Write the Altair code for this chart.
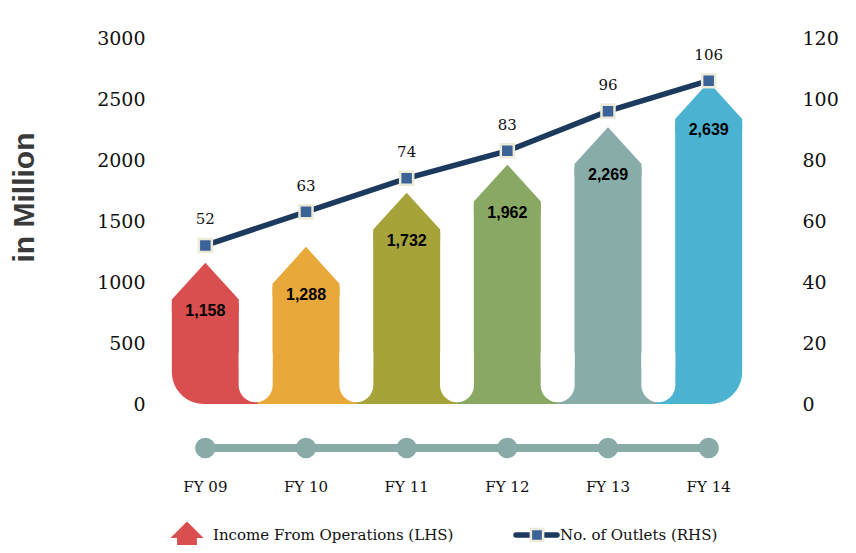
import altair as alt
import pandas as pd

# ---------------- data ----------------
years = ["FY 09", "FY 10", "FY 11", "FY 12", "FY 13", "FY 14"]
income = [1158, 1288, 1732, 1962, 2269, 2639]          # LHS, in million
outlets = [52, 63, 74, 83, 96, 106]                     # RHS, count
bar_colors = ["#D94E4F", "#E9A83A", "#A6A33A", "#88A863", "#88ACA8", "#4BB3D1"]
left_ticks = [0, 500, 1000, 1500, 2000, 2500, 3000]
right_ticks = [0, 20, 40, 60, 80, 100, 120]
legend_labels = ["Income From Operations (LHS)", "No. of Outlets (RHS)"]

df = pd.DataFrame({"fy": years, "income": income, "outlets": outlets})
legend_df = pd.DataFrame({"label": legend_labels})

# ---------------- styling ----------------
W, H = 604, 366
STEP = W / len(years)
BAR_W = 67
NAVY = "#1B3A5E"
MARK_FILL = "#3C6397"
MARK_STROKE = "#ECEAD9"
TIMELINE = "#88ABA8"
SERIF = "DejaVu Serif"
SANS = "Liberation Sans"

HEAD_PATH = "M0,0 L1,1.1 L1,1.45 L-1,1.45 L-1,1.1 Z"
LEG_ARROW_PATH = "M0,-1 L1,0 L0.6,0 L0.6,1.4 L-0.6,1.4 L-0.6,0 L-1,0 Z"

x_scale = alt.Scale(type="band", domain=years, paddingInner=0, paddingOuter=0)
x_ax = alt.Axis(labelFont=SERIF, labelFontSize=15, labelColor="#111",
                labelPadding=75, domain=False, ticks=False, grid=False, labelAngle=0)
x_enc = alt.X("fy:N", sort=years, scale=x_scale, title=None, axis=x_ax)

yl = alt.Scale(domain=[0, 3000], nice=False, zero=True)
yr = alt.Scale(domain=[0, 120], nice=False, zero=True)
color = alt.Color("fy:N", scale=alt.Scale(domain=years, range=bar_colors), legend=None)

left_axis = alt.Axis(values=left_ticks, format="d", grid=False, domain=False, ticks=False,
                     labelFont=SERIF, labelFontSize=19, labelColor="#111", labelPadding=10,
                     title="in Million", titleFont=SANS, titleFontSize=30, titleFontWeight="bold",
                     titleColor="#3A3A3A", titleX=-131, titleY=159, titleAngle=270,
                     titleAlign="center", titleBaseline="middle")
right_axis = alt.Axis(values=right_ticks, format="d", orient="right", grid=False, domain=False,
                      ticks=False, labelFont=SERIF, labelFontSize=19, labelColor="#111",
                      labelPadding=43, title=None)

base = alt.Chart(df)

# arrow bodies
body = base.transform_calculate(body_top="datum.income - 330").mark_bar(
    width=BAR_W, cornerRadiusBottomLeft=32, cornerRadiusBottomRight=32
).encode(
    x=x_enc,
    y=alt.Y("body_top:Q", scale=yl, axis=left_axis),
    y2=alt.datum(0),
    color=color,
)

# arrow heads
head = base.mark_point(shape=HEAD_PATH, size=BAR_W ** 2, filled=True, opacity=1, strokeWidth=0).encode(
    x=x_enc, y=alt.Y("income:Q", scale=yl, axis=left_axis), color=color
)

# feet joining the bars at the bottom
foot_mid = base.transform_filter(alt.FieldOneOfPredicate(field="fy", oneOf=years[1:-1])).mark_bar(
    width=STEP + 1
).encode(x=x_enc, y=alt.datum(290), y2=alt.datum(0), color=color)
foot_first = base.transform_filter(alt.FieldEqualPredicate(field="fy", equal=years[0])).mark_bar(
    width=STEP / 2 + 2, xOffset=STEP / 4 + 1
).encode(x=x_enc, y=alt.datum(290), y2=alt.datum(0), color=color)
foot_last = base.transform_filter(alt.FieldEqualPredicate(field="fy", equal=years[-1])).mark_bar(
    width=STEP / 2 + 2, xOffset=-(STEP / 4 + 1)
).encode(x=x_enc, y=alt.datum(290), y2=alt.datum(0), color=color)

# white pill separators
pill = base.transform_filter(alt.FieldOneOfPredicate(field="fy", oneOf=years[:-1])).mark_bar(
    width=34, xOffset=STEP / 2, color="white",
    cornerRadiusBottomLeft=17, cornerRadiusBottomRight=17
).encode(x=x_enc, y=alt.datum(420), y2=alt.datum(15))

bar_labels = base.mark_text(dy=48, font=SANS, fontWeight="bold", fontSize=16, color="#000").encode(
    x=x_enc, y=alt.Y("income:Q", scale=yl, axis=left_axis), text=alt.Text("income:Q", format=",")
)

# timeline under the chart
timeline = base.mark_line(color=TIMELINE, strokeWidth=8).encode(x=x_enc, y=alt.value(410))
timeline_dots = base.mark_circle(size=420, opacity=1, color=TIMELINE).encode(x=x_enc, y=alt.value(410))

# legend
LEG_Y = 497
leg1 = alt.Chart(legend_df).transform_filter(alt.FieldEqualPredicate(field="label", equal=legend_labels[0]))
leg2 = alt.Chart(legend_df).transform_filter(alt.FieldEqualPredicate(field="label", equal=legend_labels[1]))
leg_arrow = leg1.mark_point(shape=LEG_ARROW_PATH, size=33 ** 2, filled=True, opacity=1,
                            color=bar_colors[0], strokeWidth=0).encode(x=alt.value(32), y=alt.value(LEG_Y + 3))
leg_text1 = leg1.mark_text(align="left", baseline="middle", font=SERIF, fontSize=15, color="#111").encode(
    x=alt.value(58), y=alt.value(LEG_Y), text="label:N")
leg_rule = leg2.mark_rule(color=NAVY, strokeWidth=5.5, strokeCap="round").encode(
    x=alt.value(361), x2=alt.value(402), y=alt.value(LEG_Y))
leg_sq = leg2.mark_square(size=150, opacity=1, fill=MARK_FILL, stroke=MARK_STROKE, strokeWidth=2.5).encode(
    x=alt.value(382), y=alt.value(LEG_Y))
leg_text2 = leg2.mark_text(align="left", baseline="middle", font=SERIF, fontSize=15, color="#111").encode(
    x=alt.value(405), y=alt.value(LEG_Y), text="label:N")

left_group = alt.layer(body, foot_mid, foot_first, foot_last, pill, head, bar_labels,
                       timeline, timeline_dots, leg_arrow, leg_text1, leg_rule, leg_sq, leg_text2)

# line on the right axis
line = base.mark_line(color=NAVY, strokeWidth=5.5).encode(
    x=x_enc, y=alt.Y("outlets:Q", scale=yr, axis=right_axis))
markers = base.mark_square(size=170, opacity=1, fill=MARK_FILL, stroke=MARK_STROKE, strokeWidth=2.5).encode(
    x=x_enc, y=alt.Y("outlets:Q", scale=yr, axis=right_axis))
line_labels = base.mark_text(dy=-26, font=SERIF, fontSize=15, color="#111").encode(
    x=x_enc, y=alt.Y("outlets:Q", scale=yr, axis=right_axis), text="outlets:Q")

right_group = alt.layer(line, markers, line_labels)

chart = alt.layer(left_group, right_group).resolve_scale(y="independent").properties(
    width=W, height=H, autosize="none",
    padding={"left": 147, "top": 30, "right": 89, "bottom": 141},
    background="white",
).configure_view(stroke=None)

chart.save("out.html", embed_options={"renderer": "svg", "actions": False})
